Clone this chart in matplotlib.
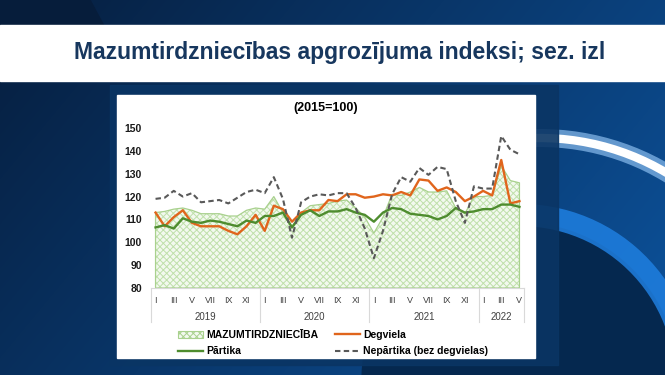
import numpy as np
import matplotlib.pyplot as plt
from matplotlib.patches import Rectangle, Polygon, Arc, Circle, Patch
from matplotlib.lines import Line2D
import matplotlib.transforms as mtransforms

plt.rcParams['font.family'] = ['Liberation Sans', 'DejaVu Sans']
plt.rcParams['hatch.linewidth'] = 0.7

# --- data (2015=100), Jan 2019 .. May 2022 ---
years = ["2019", "2020", "2021", "2022"]
months_in_year = [12, 12, 12, 5]
roman = ["I", "II", "III", "IV", "V", "VI", "VII", "VIII", "IX", "X", "XI", "XII"]

retail = [113, 113.5, 114.5, 115, 114, 112.5, 112.5, 112.5, 111.5, 111.5, 114, 115,
          114.5, 120, 113, 107, 113, 116, 116.5, 117, 118, 118.5, 115, 111,
          104, 111, 121, 120.5, 122, 124, 122, 122, 122.5, 115, 112.5, 120,
          120, 120.5, 133.5, 127, 126]
fuel = [113, 107, 111, 114, 108.5, 107, 107, 107, 105, 103.5, 107, 112,
        105, 116, 114.5, 109, 113, 114, 114, 118.5, 118, 121, 121, 119.5,
        120, 121, 120.5, 122, 120.5, 127.5, 127, 122.5, 124, 122, 118, 120,
        122.5, 120.5, 136, 117, 118]
food = [106.5, 107.5, 106, 110.5, 109, 108.5, 109.5, 109, 108, 107, 109.5, 108.5,
        111.5, 111.5, 113, 106.5, 112, 114, 111.5, 113.5, 113.5, 114.5, 113, 112,
        109, 113, 115, 114.5, 112.5, 112, 111.5, 110, 111.5, 115, 113, 113.5,
        114.5, 114.5, 116.5, 116.5, 115.5]
nonfood = [119, 119.5, 122.5, 120, 121.5, 117.5, 118, 118.5, 117, 119.5, 122, 123,
           121.5, 128.5, 119, 102, 117.5, 120, 121, 120.5, 121.5, 121.5, 115, 106,
           93, 105, 121, 128.5, 126.5, 132.5, 129.5, 133, 132, 118, 108.5, 124.5,
           123.5, 123.5, 146.5, 140.5, 138.5]

W, H = 665, 375
fig = plt.figure(figsize=(6.65, 3.75), dpi=100)

# --- slide background ---
bg = fig.add_axes([0, 0, 1, 1])
bg.set_xlim(0, W)
bg.set_ylim(H, 0)
bg.axis('off')
yy, xx = np.mgrid[0:H, 0:W]
t = np.clip(0.75 * xx / W + 0.35 * yy / H, 0, 1)[..., None]
c0 = np.array([6, 30, 62]) / 255
c1 = np.array([12, 78, 148]) / 255
bg.imshow(c0 * (1 - t) + c1 * t, extent=(0, W, H, 0), aspect='auto', zorder=0)
bg.add_patch(Polygon([(0, 0), (90, 0), (104, 26), (0, 26)], color='#061d3b', zorder=1))
bg.add_patch(Circle((520, 381), 158, color='#05284f', zorder=1))
bg.add_patch(Arc((520, 381), 332, 332, theta1=262, theta2=360,
                 color='#1f7fe0', lw=16, alpha=0.85, zorder=2))
bg.add_patch(Arc((540, 385), 494, 494, theta1=262, theta2=340,
                 color='#9fd0ff', lw=13, alpha=0.6, zorder=2))
bg.add_patch(Arc((540, 385), 494, 494, theta1=262, theta2=340,
                 color='white', lw=6, zorder=3))
bg.add_patch(Rectangle((0, 25), W, 56, color='white', zorder=4))
bg.text(340, 53, "Mazumtirdzniecības apgrozījuma indeksi; sez. izl",
        ha='center', va='center', fontsize=16.5, fontweight='bold',
        color='#17375e', zorder=5)
bg.add_patch(Rectangle((110, 85), 448, 280, color='#0a3564', alpha=0.9, zorder=4))
bg.add_patch(Rectangle((117, 95), 418, 263, color='white', zorder=5))
bg.text(326, 108, "(2015=100)", ha='center', va='center', fontsize=9,
        fontweight='bold', color='black', zorder=6)

# --- chart ---
ax = fig.add_axes([151 / W, 1 - 288 / H, 373 / W, 160 / H])
ax.patch.set_alpha(0)
x = np.arange(len(retail))

ax.fill_between(x, 80, retail, facecolor='#f3f9ef', edgecolor='#bfe0aa',
                hatch='xxxxx', linewidth=0, zorder=1)
ax.fill_between(x, 80, retail, facecolor='none', edgecolor='#a9d18e',
                linewidth=0.9, zorder=1.5)
ax.plot(x, fuel, color='#e0651c', lw=1.7, zorder=3, solid_joinstyle='round')
ax.plot(x, food, color='#4e8c2e', lw=1.7, zorder=3, solid_joinstyle='round')
ax.plot(x, nonfood, color='#595959', lw=1.5, dashes=(2.6, 1.6), zorder=4)

ax.set_xlim(-0.5, len(retail) - 0.5)
ax.set_ylim(80, 150)
ax.set_yticks(range(80, 151, 10))
ax.tick_params(axis='y', length=0, pad=6.5, labelsize=7.5, labelcolor='#1a1a1a')
for lbl in ax.get_yticklabels():
    lbl.set_fontweight('bold')

month_labels = []
for n in months_in_year:
    month_labels += [roman[i] if i % 2 == 0 else "" for i in range(n)]
ax.set_xticks(x)
ax.set_xticklabels(month_labels)
ax.tick_params(axis='x', length=0, pad=5.5, labelsize=6.5, labelcolor='#404040')

for s in ['top', 'right', 'left']:
    ax.spines[s].set_visible(False)
ax.spines['bottom'].set_color('#d9d9d9')
ax.spines['bottom'].set_linewidth(0.8)

trans = mtransforms.blended_transform_factory(ax.transData, ax.transAxes)
start = 0
bounds = [-0.5]
for yr, n in zip(years, months_in_year):
    ax.text(start + (n - 1) / 2, -0.18, yr, transform=trans, ha='center',
            va='center', fontsize=7, color='#404040')
    start += n
    bounds.append(start - 0.5)
for b in bounds:
    ax.add_line(Line2D([b, b], [0, -0.2125], transform=trans, color='#d9d9d9',
                       lw=0.8, clip_on=False))

handles = [
    Patch(facecolor='#f3f9ef', edgecolor='#a9d18e', hatch='xxxxx', lw=0.8),
    Line2D([], [], color='#4e8c2e', lw=1.7),
    Line2D([], [], color='#e0651c', lw=1.7),
    Line2D([], [], color='#595959', lw=1.5, dashes=(2.6, 1.6)),
]
labels = ["MAZUMTIRDZNIECĪBA", "Pārtika", "Degviela", "Nepārtika (bez degvielas)"]
fig.legend(handles, labels, ncol=2, loc='upper left',
           bbox_to_anchor=(178 / W, 1 - 330 / H), frameon=False,
           prop={'weight': 'bold', 'size': 7.5}, handlelength=2.4,
           handletextpad=0.3, columnspacing=1.6, labelspacing=0.6,
           borderpad=0, borderaxespad=0)

fig.savefig('out.png', dpi=100)
